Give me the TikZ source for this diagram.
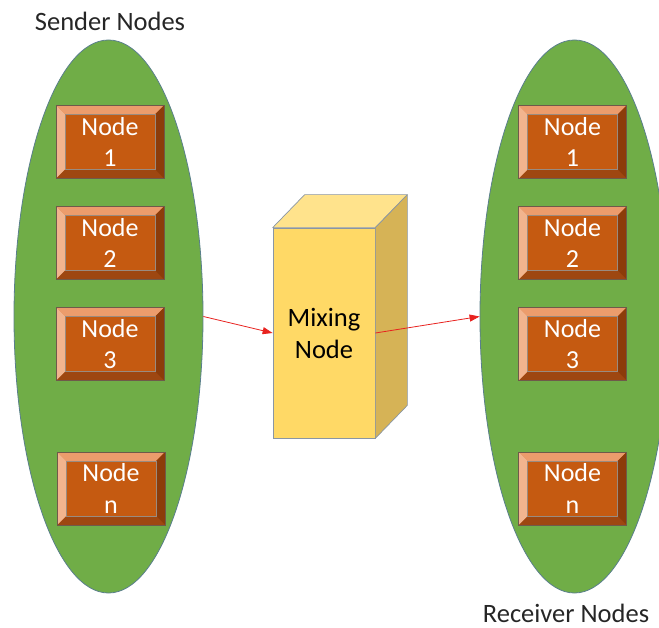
\documentclass[tikz,border=0pt]{standalone}
\usepackage{fontspec}
\setmainfont{Carlito}
\usetikzlibrary{shapes.geometric,arrows.meta}
\definecolor{ellfill}{HTML}{70AD47}
\definecolor{ellline}{HTML}{5A7F8C}
\definecolor{bevmid}{HTML}{C55A11}
\definecolor{bevtop}{HTML}{EC9C6C}
\definecolor{bevleft}{HTML}{F2B48E}
\definecolor{bevright}{HTML}{8C3C0A}
\definecolor{bevbot}{HTML}{9E4711}
\definecolor{bevline}{HTML}{6F5A4A}
\definecolor{mixfront}{HTML}{FFD966}
\definecolor{mixtop}{HTML}{FFE38C}
\definecolor{mixside}{HTML}{D6B356}
\definecolor{mixline}{HTML}{8A96A4}
\definecolor{arrred}{HTML}{E8221F}
\begin{document}
\begin{tikzpicture}[x=1pt,y=-1pt,
  group/.style={ellipse, draw=ellline, line width=0.8pt, fill=ellfill,
    minimum width=189pt, minimum height=553pt, inner sep=0pt},
  bevelbox/.style={draw=bevline, line width=0.6pt, fill=bevmid,
    minimum width=108pt, minimum height=73pt, inner sep=0pt,
    align=center, text=white, font=\fontsize{26}{31.5}\selectfont,
    path picture={
      \fill[bevtop] (path picture bounding box.north west) -- (path picture bounding box.north east)
        -- ([shift={(-9pt,-9pt)}]path picture bounding box.north east)
        -- ([shift={(9pt,-9pt)}]path picture bounding box.north west) -- cycle;
      \fill[bevbot] (path picture bounding box.south west) -- (path picture bounding box.south east)
        -- ([shift={(-9pt,9pt)}]path picture bounding box.south east)
        -- ([shift={(9pt,9pt)}]path picture bounding box.south west) -- cycle;
      \fill[bevleft] (path picture bounding box.north west) -- (path picture bounding box.south west)
        -- ([shift={(9pt,9pt)}]path picture bounding box.south west)
        -- ([shift={(9pt,-9pt)}]path picture bounding box.north west) -- cycle;
      \fill[bevright] (path picture bounding box.north east) -- (path picture bounding box.south east)
        -- ([shift={(-9pt,9pt)}]path picture bounding box.south east)
        -- ([shift={(-9pt,-9pt)}]path picture bounding box.north east) -- cycle;
      \draw[bevline!70, line width=0.4pt] ([shift={(9pt,-9pt)}]path picture bounding box.north west)
        rectangle ([shift={(-9pt,9pt)}]path picture bounding box.south east);
    }},
  mixbox/.style={draw=mixline, line width=0.7pt, fill=mixfront,
    minimum width=102pt, minimum height=210pt, inner sep=0pt,
    align=center, font=\fontsize{26.5}{32}\selectfont},
  face/.style={draw=mixline, line width=0.7pt, line join=round},
  label/.style={font=\fontsize{26.5}{32}\selectfont, text=black!85, inner sep=0pt},
  arr/.style={draw=arrred, line width=0.8pt, -{Triangle[length=10pt,width=7pt]}}
]
\useasboundingbox (0,0) rectangle (659,628);
\clip (0,0) rectangle (659,628);

% groups
\node[group] (lel) at (108.5,316.5) {};
\node[group] (rel) at (574.5,316.5) {};

% sender nodes
\node[bevelbox] (s1) at (110,142) {Node\\1};
\node[bevelbox] (s2) at (110,243) {Node\\2};
\node[bevelbox] (s3) at (110,344) {Node\\3};
\node[bevelbox] (sn) at (111,488.5) {Node\\n};

% receiver nodes
\node[bevelbox] (r1) at (572.5,142) {Node\\1};
\node[bevelbox] (r2) at (572.5,243) {Node\\2};
\node[bevelbox] (r3) at (572.5,344) {Node\\3};
\node[bevelbox] (rn) at (572.5,488.5) {Node\\n};

% mixing node
\node[mixbox] (mix) at (324,333) {Mixing\\Node};
\filldraw[face, fill=mixtop] (mix.north west) -- ([xshift=32pt,yshift=33pt]mix.north west)
  -- ([xshift=32pt,yshift=33pt]mix.north east) -- (mix.north east) -- cycle;
\filldraw[face, fill=mixside] (mix.north east) -- ([xshift=32pt,yshift=33pt]mix.north east)
  -- ([xshift=32pt,yshift=33pt]mix.south east) -- (mix.south east) -- cycle;

% labels
\node[label] (slabel) at (110,21) {Sender Nodes};
\node[label] (rlabel) at (566,613) {Receiver Nodes};

% connectors
\draw[arr] (lel.east) -- (mix.west);
\draw[arr] (mix.east) -- (rel.west);
\end{tikzpicture}
\end{document}
